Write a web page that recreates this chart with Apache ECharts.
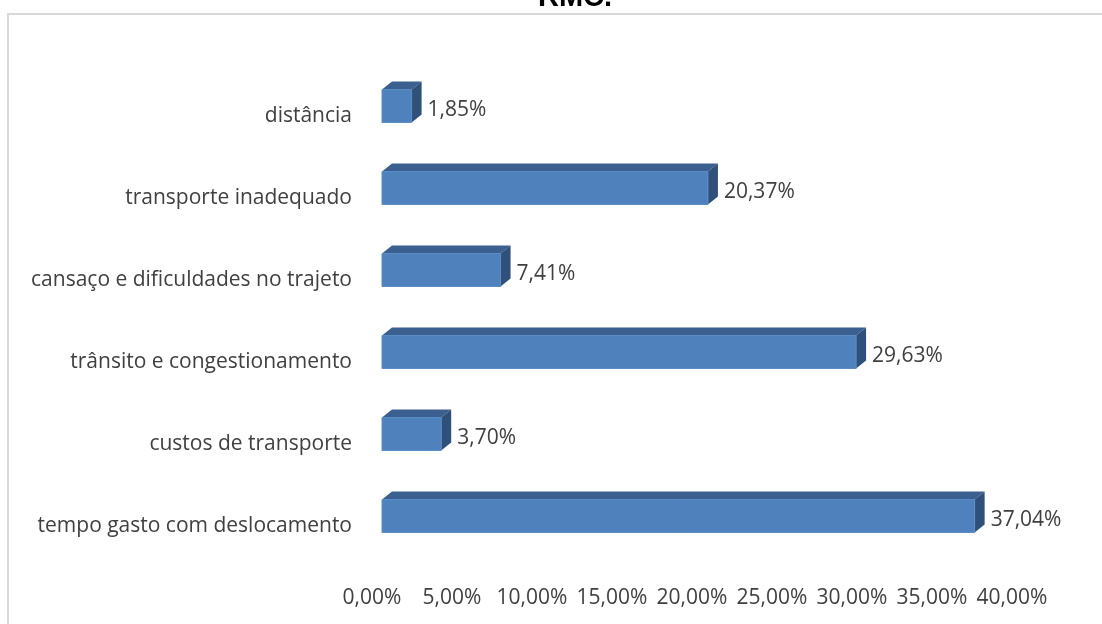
<!DOCTYPE html>
<html>
<head>
<meta charset="utf-8">
<style>
  html, body { margin: 0; padding: 0; background: #ffffff; }
  #chart { width: 1102px; height: 624px; }
</style>
<script src="https://cdn.jsdelivr.net/npm/echarts@6/dist/echarts.min.js"></script>
</head>
<body>
<div id="chart"></div>
<script>
// Motivos (top to bottom) and their shares in percent
const categories = [
  'distância',
  'transporte inadequado',
  'cansaço e dificuldades no trajeto',
  'trânsito e congestionamento',
  'custos de transporte',
  'tempo gasto com deslocamento'
];
const values = [1.85, 20.37, 7.41, 29.63, 3.70, 37.04];
const tickValues = [0, 5, 10, 15, 20, 25, 30, 35, 40];
const titleText = 'RMC.';

const FONT = '"Open Sans", "Liberation Sans", sans-serif';
const TEXT_COLOR = '#404040';
const FRONT = '#4f81bd';
const TOP = '#3b5f8f';
const SIDE = '#2f5078';
const DEPTH_X = 10, DEPTH_Y = -8, BAR_H = 33;
const BAR_SHIFT = -10;   // bars sit slightly above their category label

const fmtPct = v => v.toFixed(2).replace('.', ',') + '%';

const chart = echarts.init(document.getElementById('chart'), null, { renderer: 'canvas' });

chart.setOption({
  backgroundColor: '#ffffff',
  animation: false,
  graphic: [
    {
      type: 'rect',
      shape: { x: 8, y: 14, width: 1200, height: 700 },
      style: { fill: 'none', stroke: '#d9d9d9', lineWidth: 2 },
      silent: true
    },
    {
      type: 'text',
      x: 575, y: -2,
      style: {
        text: titleText,
        font: 'bold 29px "Liberation Sans", Arial, sans-serif',
        fill: '#000000',
        align: 'center',
        verticalAlign: 'middle'
      }
    }
  ],
  grid: { left: 382, right: 80, top: 75, bottom: 57 },
  xAxis: {
    type: 'value',
    min: 0, max: 40, interval: 5,
    axisLine: { show: false },
    axisTick: { show: false },
    splitLine: { show: false },
    axisLabel: {
      color: TEXT_COLOR,
      fontFamily: FONT,
      fontSize: 21,
      margin: 21,
      padding: [0, 20, 0, 0],
      formatter: v => tickValues.includes(v) ? fmtPct(v) : ''
    }
  },
  yAxis: {
    type: 'category',
    inverse: true,
    data: categories,
    axisLine: { show: false },
    axisTick: { show: false },
    splitLine: { show: false },
    axisLabel: {
      color: TEXT_COLOR,
      fontFamily: FONT,
      fontSize: 21,
      margin: 30
    }
  },
  series: [{
    type: 'custom',
    data: values.map((v, i) => [v, i]),
    encode: { x: 0, y: 1 },
    renderItem: function (params, api) {
      const v = api.value(0);
      const idx = api.value(1);
      const end = api.coord([v, idx]);
      const start = api.coord([0, idx]);
      const x0 = start[0], x1 = end[0];
      const top = end[1] + BAR_SHIFT - BAR_H / 2;
      const bottom = top + BAR_H;
      return {
        type: 'group',
        children: [
          {
            type: 'polygon',
            shape: { points: [[x0, top], [x0 + DEPTH_X, top + DEPTH_Y], [x1 + DEPTH_X, top + DEPTH_Y], [x1, top]] },
            style: { fill: TOP }
          },
          {
            type: 'polygon',
            shape: { points: [[x1, top], [x1 + DEPTH_X, top + DEPTH_Y], [x1 + DEPTH_X, bottom + DEPTH_Y], [x1, bottom]] },
            style: { fill: SIDE }
          },
          {
            type: 'rect',
            shape: { x: x0, y: top, width: x1 - x0, height: BAR_H },
            style: { fill: FRONT, stroke: '#5b8cc6', lineWidth: 1 }
          },
          {
            type: 'text',
            x: x1 + DEPTH_X + 6,
            y: end[1] + BAR_SHIFT + 4,
            style: {
              text: fmtPct(v),
              font: '21px ' + FONT,
              fill: TEXT_COLOR,
              align: 'left',
              verticalAlign: 'middle'
            }
          }
        ]
      };
    }
  }]
});
</script>
</body>
</html>
